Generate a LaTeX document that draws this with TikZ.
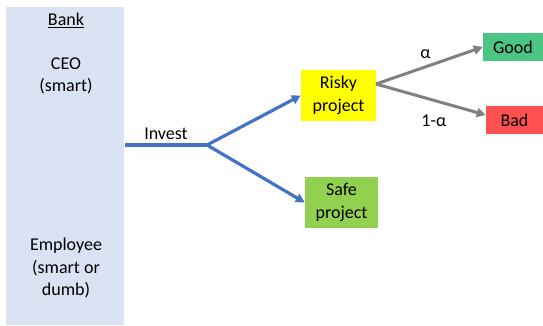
\documentclass[tikz,border=0pt]{standalone}
\usepackage{fontspec}
\setmainfont{Carlito}
\usetikzlibrary{arrows.meta}
\definecolor{bankbg}{HTML}{DAE3F3}
\definecolor{invblue}{HTML}{4472C4}
\definecolor{riskyY}{HTML}{FFFF00}
\definecolor{safeG}{HTML}{92D050}
\definecolor{goodG}{HTML}{4CC483}
\definecolor{badR}{HTML}{FF5050}
\definecolor{arrgrey}{HTML}{808080}
\begin{document}
\begin{tikzpicture}[x=1pt,y=-1pt,
  every node/.style={font=\fontsize{18}{22.5}\selectfont, inner sep=0pt, align=center},
  bluearr/.style={draw=invblue, line width=3.2pt, -{Triangle[length=9pt,width=9pt]}},
  greyarr/.style={draw=arrgrey, line width=3pt, -{Triangle[length=9pt,width=9pt]}}]
\useasboundingbox (0,0) rectangle (543,326);
\node[fill=bankbg, minimum width=118pt, minimum height=318pt] (bank) at (65,166) {};
\node (banklbl) at (66,20) {\underline{Bank}};
\node (ceo) at (66,76) {CEO\\(smart)};
\node (emp) at (66,268) {Employee\\(smart or\\dumb)};
\node[fill=riskyY, minimum width=75pt, minimum height=51pt] (risky) at (338.5,95.5) {Risky\\project};
\node[fill=safeG, minimum width=73pt, minimum height=51pt] (safe) at (341.5,202.5) {Safe\\project};
\node[fill=goodG, minimum width=60pt, minimum height=28pt] (good) at (513,47) {Good};
\node[fill=badR, minimum width=57pt, minimum height=28pt] (bad) at (514.5,120) {Bad};
\coordinate (fork) at (207,145);
\coordinate (split) at (376,84);
\draw[draw=invblue, line width=3.6pt] (125,145) -- node[above=4pt, inner sep=0pt] (inv) {Invest} (fork);
\draw[bluearr] (fork) -- (risky.west);
\draw[bluearr] (fork) -- (safe.west);
\draw[greyarr] (split) -- node[above=5pt, xshift=-4pt] (alpha) {α} (good.west);
\draw[greyarr] (split) -- node[below=14pt, xshift=3pt] (oneminus) {1-α} ([yshift=5pt]bad.west);
\end{tikzpicture}
\end{document}
